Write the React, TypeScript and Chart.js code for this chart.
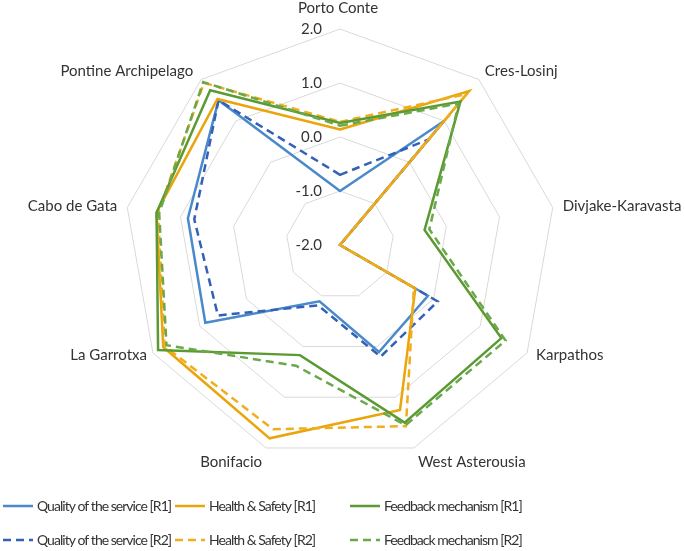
import React, { useEffect, useRef } from "react";
import { Chart, registerables } from "chart.js";

Chart.register(...registerables);

const categories = [
  "Porto Conte",
  "Cres-Losinj",
  "Divjake-Karavasta",
  "Karpathos",
  "West Asterousia",
  "Bonifacio",
  "La Garrotxa",
  "Cabo de Gata",
  "Pontine Archipelago",
];

const qualityR1 = [-1.0, 1.0, -2.0, -0.12, 0.11, -0.89, 0.88, 0.86, 1.5];
const healthR1 = [0.14, 1.72, -2.0, -0.39, 1.25, 1.81, 1.78, 1.45, 1.53];
const feedbackR1 = [0.26, 1.47, -0.41, 1.45, 1.5, 0.17, 1.89, 1.45, 1.74];
const qualityR2 = [-0.7, 0.55, -2.0, 0.09, 0.2, -0.81, 0.61, 0.74, 1.5];
const healthR2 = [0.28, 1.65, -2.0, -0.42, 1.57, 1.63, 1.75, 1.42, 1.92];
const feedbackR2 = [0.21, 1.42, -0.32, 1.54, 1.55, 0.38, 1.71, 1.4, 1.94];

const seriesNames = [
  "Quality of the service [R1]",
  "Health & Safety [R1]",
  "Feedback mechanism [R1]",
  "Quality of the service [R2]",
  "Health & Safety [R2]",
  "Feedback mechanism [R2]",
];

const axisMin = -2;
const axisMax = 2;
const axisStep = 1;

const FONT = "Lato, 'Open Sans', sans-serif";
const TEXT = "#333333";

const labelPlugin = {
  id: "customLabels",
  afterDraw(chart: any) {
    const s = chart.scales.r;
    const ctx = chart.ctx;
    ctx.save();
    ctx.fillStyle = TEXT;
    // point labels
    ctx.font = `15px ${FONT}`;
    const n = chart.data.labels.length;
    for (let i = 0; i < n; i++) {
      const p = s.getPointPosition(i, s.drawingArea);
      const a = (i / n) * Math.PI * 2;
      const sn = Math.sin(a);
      const cs = Math.cos(a);
      let x = p.x;
      let y = p.y;
      ctx.textBaseline = "middle";
      if (Math.abs(sn) < 0.01) {
        ctx.textAlign = "center";
        x = p.x - 2;
        y = p.y - 21;
      } else {
        ctx.textAlign = sn > 0 ? "left" : "right";
        let dx = 6;
        if (cs > 0.5) dx = sn > 0 ? 6 : 8;
        else if (cs > -0.3) dx = 10;
        else if (cs > -0.7) dx = sn > 0 ? 9 : 6;
        else dx = 4;
        x = p.x + (sn > 0 ? dx : -dx);
        if (cs > 0.5) y = p.y - 8;
        else if (cs > 0) y = p.y - 1;
        else if (cs > -0.7) y = p.y + 2;
        else y = p.y + 14;
      }
      ctx.fillText(chart.data.labels[i], x, y);
    }
    // tick labels
    ctx.textAlign = "right";
    ctx.textBaseline = "middle";
    s.ticks.forEach((t: any) => {
      const d = s.getDistanceFromCenterForValue(t.value);
      ctx.fillText(Number(t.value).toFixed(1), s.xCenter - 18, s.yCenter - d);
    });
    // legend
    const cols = [3, 175, 350];
    const rows = [506, 540];
    ctx.font = `14px ${FONT}`;
    const first = chart.data.datasets[0].label;
    const w0 = ctx.measureText(first).width;
    const ls = Math.max(-1, Math.min(0, (134 - w0) / first.length));
    try {
      (ctx as any).letterSpacing = `${ls.toFixed(2)}px`;
    } catch (e) {}
    ctx.textAlign = "left";
    chart.data.datasets.forEach((ds: any, k: number) => {
      const x = cols[k % 3];
      const y = rows[Math.floor(k / 3)];
      ctx.save();
      ctx.strokeStyle = ds.borderColor;
      ctx.lineWidth = ds.borderWidth;
      ctx.setLineDash(ds.borderDash || []);
      ctx.beginPath();
      ctx.moveTo(x, y);
      ctx.lineTo(x + 30, y);
      ctx.stroke();
      ctx.restore();
      ctx.fillText(ds.label, x + 34, y);
    });
    ctx.restore();
  },
};

export default function App() {
  const ref = useRef<HTMLCanvasElement | null>(null);
  useEffect(() => {
    if (!ref.current) return;
    const dash = [8, 5];
    const mk = (label: string, data: number[], color: string, dashed: boolean, order: number) => ({
      label,
      data,
      borderColor: color,
      backgroundColor: color,
      borderWidth: 2.5,
      borderDash: dashed ? dash : [],
      fill: false,
      pointRadius: 0,
      pointHoverRadius: 0,
      tension: 0,
      order,
    });
    const chart = new Chart(ref.current, {
      type: "radar",
      data: {
        labels: categories,
        datasets: [
          mk(seriesNames[0], qualityR1, "#4a8acb", false, 5),
          mk(seriesNames[1], healthR1, "#eaa40c", false, 3),
          mk(seriesNames[2], feedbackR1, "#5b9a33", false, 1),
          mk(seriesNames[3], qualityR2, "#3461b5", true, 4),
          mk(seriesNames[4], healthR2, "#f0ad1c", true, 2),
          mk(seriesNames[5], feedbackR2, "#6aa84a", true, 0),
        ],
      },
      options: {
        responsive: false,
        animation: false,
        devicePixelRatio: 1,
        layout: { padding: { left: 124, top: 29, right: 129, bottom: 90 } },
        plugins: { legend: { display: false }, tooltip: { enabled: false } },
        scales: {
          r: {
            min: axisMin,
            max: axisMax,
            ticks: { stepSize: axisStep, display: false },
            pointLabels: { display: false },
            angleLines: { display: false },
            grid: { color: "#d9d9d9", lineWidth: 1 },
          },
        },
      },
      plugins: [labelPlugin],
    });
    return () => chart.destroy();
  }, []);
  return (
    <div style={{ position: "absolute", left: 0, top: 0, width: 685, height: 551, background: "#fff" }}>
      <canvas ref={ref} width={685} height={551} />
    </div>
  );
}
